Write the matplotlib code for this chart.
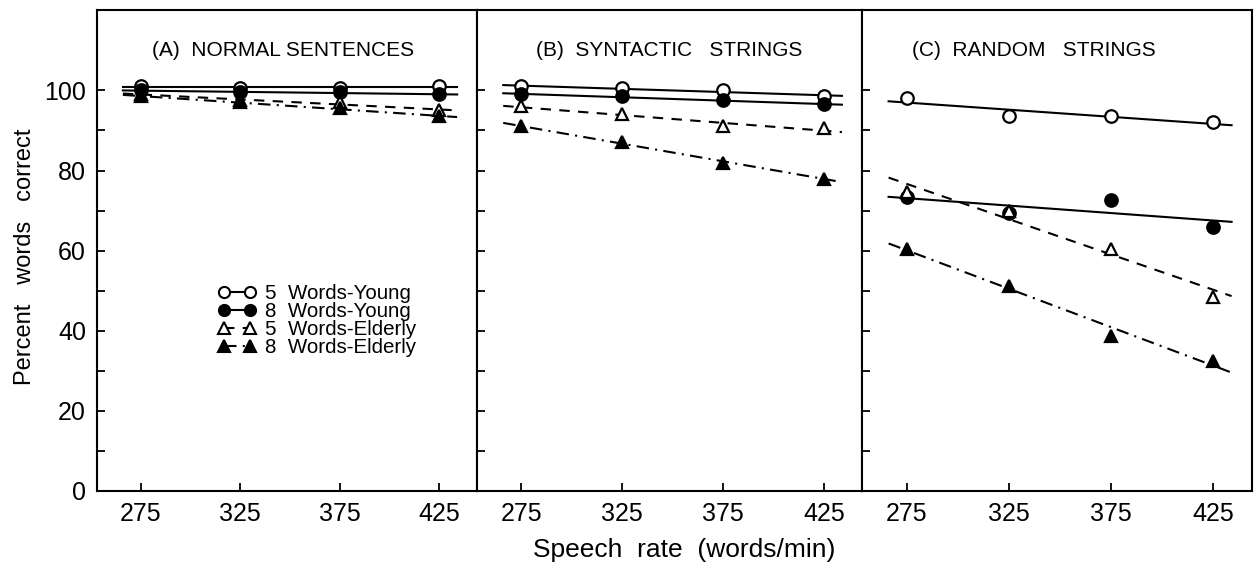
import numpy as np
import matplotlib.pyplot as plt

plt.rcParams['font.family'] = ['Liberation Sans', 'DejaVu Sans']

# speech rates (words/min)
rates = [275, 325, 375, 425]

panel_titles = ['(A)  NORMAL SENTENCES', '(B)  SYNTACTIC   STRINGS', '(C)  RANDOM   STRINGS']
series_names = ['5  Words-Young', '8  Words-Young', '5  Words-Elderly', '8  Words-Elderly']

# percent words correct, one list per panel, order as in series_names
normal = [
    [101.0, 100.5, 100.5, 101.0],
    [100.0, 99.5, 99.5, 99.0],
    [99.0, 97.5, 97.0, 95.0],
    [98.5, 97.0, 95.5, 93.5],
]
syntactic = [
    [101.0, 100.5, 100.0, 98.5],
    [99.0, 98.5, 97.5, 96.5],
    [96.0, 94.0, 91.0, 90.5],
    [91.0, 87.0, 82.0, 78.0],
]
random_str = [
    [98.0, 93.5, 93.7, 92.0],
    [73.3, 69.3, 72.6, 66.0],
    [74.7, 70.0, 60.5, 48.5],
    [60.3, 51.2, 38.6, 32.5],
]
panels = [normal, syntactic, random_str]

# marker, face colour, line style
styles = [
    dict(marker='o', mfc='white', ls='-'),
    dict(marker='o', mfc='black', ls='-'),
    dict(marker='^', mfc='white', ls=(0, (5, 4))),
    dict(marker='^', mfc='black', ls=(0, (6, 3, 1, 3))),
]

fig = plt.figure(figsize=(12.55, 5.78), dpi=100)
lefts = [0.0773, 0.3801, 0.6869]
rights = [0.3801, 0.6869, 0.9976]
bottom, top = 0.151, 0.982
title_x = [0.49, 0.50, 0.44]

fit_x = np.array([266, 434])
axes = []
for i, data in enumerate(panels):
    ax = fig.add_axes([lefts[i], bottom, rights[i] - lefts[i], top - bottom])
    axes.append(ax)
    for j, y in enumerate(data):
        st = styles[j]
        # regression line through the four points
        k, b = np.polyfit(rates, y, 1)
        ax.plot(fit_x, k * fit_x + b, color='black', lw=1.5, ls=st['ls'], zorder=2)
        ax.plot(rates, y, ls='none', marker=st['marker'], ms=9,
                mfc=st['mfc'], mec='black', mew=1.6, zorder=3)
    ax.set_xlim(253, 444)
    ax.set_ylim(0, 120)
    ax.set_xticks(rates)
    ax.set_yticks(range(0, 101, 10))
    ax.tick_params(direction='in', length=6, width=1.3, labelsize=18, pad=8)
    if i == 0:
        ax.set_yticklabels([str(v) if v % 20 == 0 else '' for v in range(0, 101, 10)])
    else:
        ax.set_yticklabels([])
    for sp in ax.spines.values():
        sp.set_linewidth(1.5)
    ax.text(title_x[i], 0.917, panel_titles[i], transform=ax.transAxes,
            ha='center', va='center', fontsize=15)

# legend in the first panel
handles = []
for j, st in enumerate(styles):
    h, = axes[0].plot([], [], color='black', lw=1.5, ls=st['ls'], marker=st['marker'],
                      ms=8, mfc=st['mfc'], mec='black', mew=1.5)
    handles.append(h)
axes[0].legend(handles, series_names, loc='upper left', bbox_to_anchor=(0.29, 0.452),
               frameon=False, numpoints=2, fontsize=14.8, handlelength=1.9,
               handletextpad=0.4, labelspacing=-0.05, borderpad=0)

fig.text(0.02, 0.555, 'Percent   words   correct', rotation=90, ha='center', va='center', fontsize=17)
fig.text(0.545, 0.048, 'Speech  rate  (words/min)', ha='center', va='center', fontsize=19)

fig.savefig('out.png', dpi=100)
